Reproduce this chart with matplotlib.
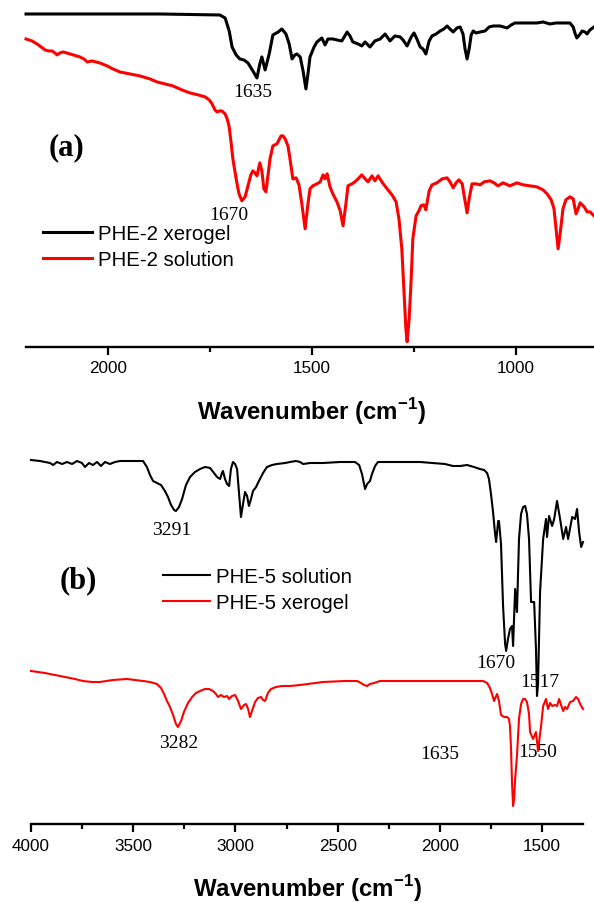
import numpy as np
import matplotlib
matplotlib.use("Agg")
import matplotlib.pyplot as plt
from matplotlib.ticker import MultipleLocator
from matplotlib import font_manager

plt.rcParams['font.family'] = ['Liberation Sans', 'DejaVu Sans']
_names = {f.name for f in font_manager.fontManager.ttflist}
if 'Liberation Sans Narrow' in _names:
    LABEL_FONT, LABEL_SIZE = 'Liberation Sans Narrow', 20
else:
    LABEL_FONT, LABEL_SIZE = 'Liberation Sans', 17.3
plt.rcParams['mathtext.fontset'] = 'custom'
plt.rcParams['mathtext.rm'] = LABEL_FONT
plt.rcParams['mathtext.bf'] = LABEL_FONT + ':bold'

# ---------------- Panel (a): PHE-2 ----------------
wn_a_xerogel = [2201, 2020, 1872, 1726, 1713, 1703, 1696, 1686, 1677, 1667,
                1657, 1645, 1635, 1628, 1623, 1615, 1605, 1596, 1583, 1574,
                1564, 1556, 1549, 1542, 1537, 1529, 1522, 1515, 1510, 1505,
                1495, 1488, 1476, 1468, 1461, 1449, 1439, 1427, 1414, 1407,
                1400, 1387, 1378, 1370, 1358, 1346, 1333, 1321, 1309, 1297,
                1284, 1277, 1267, 1257, 1250, 1243, 1235, 1228, 1221, 1213,
                1206, 1196, 1186, 1177, 1169, 1162, 1154, 1145, 1137, 1130,
                1125, 1120, 1115, 1110, 1105, 1098, 1088, 1076, 1066, 1056,
                1039, 1022, 1012, 1003, 985, 966, 949, 934, 917, 902,
                885, 868, 860, 855, 851, 843, 838, 831, 826, 819,
                809]
t_a_xerogel = [333, 333, 333, 332, 329, 316, 300, 292, 288, 287,
               284, 276, 269, 283, 290, 277, 293, 312, 315, 318,
               313, 303, 288, 292, 293, 290, 276, 258, 273, 290,
               300, 305, 309, 302, 308, 308, 307, 306, 315, 311,
               305, 303, 301, 305, 300, 306, 308, 313, 306, 311,
               310, 307, 301, 310, 314, 308, 300, 298, 293, 306,
               311, 313, 316, 318, 321, 318, 315, 319, 320, 313,
               298, 288, 298, 312, 316, 314, 315, 316, 320, 321,
               321, 319, 322, 324, 324, 324, 324, 325, 323, 324,
               324, 324, 320, 313, 309, 313, 316, 315, 313, 317,
               320]

wn_a_solution = [2201, 2186, 2174, 2164, 2154, 2145, 2137, 2130, 2125, 2118,
                 2110, 2093, 2069, 2059, 2051, 2039, 2020, 2002, 1988, 1971,
                 1946, 1922, 1897, 1880, 1860, 1841, 1819, 1799, 1779, 1762,
                 1752, 1745, 1738, 1733, 1726, 1721, 1713, 1708, 1703, 1698,
                 1694, 1686, 1679, 1672, 1664, 1657, 1650, 1645, 1640, 1635,
                 1628, 1623, 1618, 1613, 1603, 1596, 1586, 1576, 1571, 1566,
                 1559, 1554, 1547, 1539, 1532, 1525, 1517, 1510, 1505, 1498,
                 1488, 1480, 1473, 1468, 1463, 1456, 1449, 1439, 1431, 1424,
                 1417, 1412, 1402, 1395, 1387, 1378, 1370, 1363, 1353, 1346,
                 1338, 1329, 1316, 1304, 1294, 1287, 1280, 1275, 1270, 1267,
                 1262, 1257, 1253, 1245, 1238, 1233, 1226, 1221, 1213, 1206,
                 1194, 1181, 1169, 1162, 1154, 1147, 1140, 1132, 1128, 1120,
                 1115, 1108, 1098, 1088, 1078, 1064, 1054, 1044, 1032, 1015,
                 998, 983, 966, 949, 934, 924, 914, 907, 902, 897,
                 892, 885, 878, 868, 860, 853, 848, 843, 833, 826,
                 819, 809]
t_a_solution = [308, 306, 303, 300, 297, 296, 296, 294, 292, 294,
                295, 293, 290, 288, 285, 286, 284, 281, 278, 275,
                273, 271, 268, 265, 263, 261, 257, 254, 252, 250,
                247, 243, 237, 235, 236, 236, 233, 228, 220, 203,
                188, 168, 153, 146, 150, 161, 172, 176, 174, 171,
                184, 176, 158, 155, 188, 201, 203, 211, 211, 208,
                201, 188, 168, 169, 162, 143, 118, 143, 158, 161,
                163, 165, 172, 168, 173, 160, 153, 145, 136, 121,
                143, 161, 163, 165, 168, 172, 168, 165, 171, 166,
                171, 165, 158, 152, 145, 128, 98, 58, 18, 5,
                28, 68, 108, 131, 136, 141, 142, 137, 156, 162,
                164, 168, 169, 165, 159, 164, 167, 163, 153, 134,
                148, 163, 163, 162, 165, 166, 164, 161, 164, 161,
                164, 162, 161, 160, 157, 153, 147, 138, 118, 98,
                113, 138, 147, 150, 148, 133, 138, 144, 140, 135,
                135, 131]

labels_a = ["PHE-2 xerogel", "PHE-2 solution"]
peaks_a = ["1635", "1670"]

# ---------------- Panel (b): PHE-5 ----------------
wn_b_solution = [4000, 3956, 3932, 3907, 3892, 3873, 3848, 3824, 3799, 3775,
                 3751, 3736, 3716, 3697, 3677, 3658, 3638, 3614, 3589, 3565,
                 3516, 3452, 3433, 3418, 3403, 3384, 3364, 3345, 3330, 3315,
                 3300, 3291, 3276, 3261, 3242, 3222, 3198, 3173, 3149, 3124,
                 3105, 3090, 3075, 3066, 3061, 3051, 3041, 3031, 3022, 3012,
                 3002, 2992, 2982, 2973, 2963, 2953, 2943, 2934, 2924, 2914,
                 2899, 2890, 2880, 2865, 2846, 2821, 2797, 2757, 2733, 2704,
                 2684, 2669, 2635, 2572, 2488, 2415, 2395, 2381, 2366, 2356,
                 2342, 2332, 2317, 2303, 2244, 2161, 2097, 2033, 1975, 1936,
                 1901, 1867, 1833, 1804, 1784, 1769, 1760, 1750, 1740, 1730,
                 1725, 1715, 1711, 1701, 1691, 1681, 1676, 1667, 1657, 1647,
                 1642, 1632, 1623, 1613, 1603, 1593, 1583, 1574, 1564, 1554,
                 1539, 1530, 1525, 1520, 1510, 1495, 1481, 1476, 1466, 1451,
                 1441, 1427, 1412, 1397, 1383, 1373, 1353, 1339, 1329, 1319,
                 1309, 1300]
t_b_solution = [364, 363, 362, 361, 359, 362, 360, 362, 360, 363,
                361, 357, 361, 359, 362, 358, 362, 360, 362, 363,
                363, 363, 357, 349, 343, 341, 339, 333, 327, 319,
                314, 313, 317, 325, 339, 347, 352, 355, 357, 356,
                351, 347, 345, 351, 353, 345, 340, 338, 355, 362,
                360, 355, 330, 307, 320, 332, 328, 318, 325, 333,
                337, 341, 345, 351, 357, 359, 360, 361, 362, 363,
                362, 360, 361, 361, 362, 362, 359, 350, 335, 340,
                343, 350, 358, 362, 362, 362, 362, 361, 360, 358,
                358, 359, 357, 355, 354, 351, 345, 330, 312, 290,
                282, 303, 303, 280, 218, 180, 173, 185, 195, 198,
                178, 235, 212, 285, 310, 317, 318, 310, 285, 222,
                222, 175, 128, 140, 232, 285, 305, 287, 308, 298,
                305, 323, 305, 285, 297, 285, 307, 305, 315, 292,
                277, 282]

wn_b_xerogel = [4000, 3932, 3858, 3785, 3746, 3702, 3663, 3599, 3530, 3452,
                3418, 3384, 3364, 3349, 3335, 3320, 3305, 3291, 3281, 3266,
                3252, 3232, 3212, 3193, 3173, 3149, 3129, 3110, 3095, 3085,
                3071, 3056, 3041, 3031, 3017, 3002, 2987, 2973, 2958, 2948,
                2938, 2929, 2919, 2904, 2890, 2875, 2865, 2855, 2841, 2826,
                2802, 2772, 2733, 2684, 2572, 2464, 2405, 2386, 2371, 2356,
                2342, 2322, 2293, 2195, 2082, 1950, 1852, 1789, 1769, 1755,
                1745, 1735, 1725, 1720, 1711, 1701, 1686, 1671, 1662, 1657,
                1652, 1647, 1642, 1637, 1632, 1623, 1613, 1603, 1593, 1583,
                1574, 1564, 1559, 1544, 1534, 1530, 1520, 1510, 1505, 1495,
                1481, 1471, 1461, 1451, 1437, 1427, 1417, 1407, 1397, 1388,
                1378, 1363, 1349, 1334, 1324, 1314, 1300]
t_b_xerogel = [153, 151, 148, 145, 143, 142, 142, 144, 145, 143,
               142, 140, 136, 130, 123, 117, 109, 100, 97, 103,
               112, 121, 127, 131, 133, 135, 135, 133, 130, 127,
               129, 127, 128, 125, 128, 129, 123, 115, 119, 120,
               115, 107, 113, 122, 126, 127, 124, 123, 131, 135,
               137, 138, 138, 139, 142, 143, 143, 141, 139, 138,
               140, 141, 143, 143, 143, 143, 143, 143, 141, 136,
               130, 123, 128, 130, 123, 109, 107, 107, 105, 98,
               75, 40, 18, 25, 45, 68, 105, 120, 125, 125,
               122, 110, 92, 85, 90, 92, 73, 90, 98, 118,
               125, 115, 121, 118, 119, 118, 125, 119, 113, 117,
               115, 122, 123, 127, 125, 120, 115]

labels_b = ["PHE-5 solution", "PHE-5 xerogel"]
peaks_b = ["3291", "3282", "1670", "1517", "1635", "1550"]

for a, b in [(wn_a_xerogel, t_a_xerogel), (wn_a_solution, t_a_solution),
             (wn_b_solution, t_b_solution), (wn_b_xerogel, t_b_xerogel)]:
    assert len(a) == len(b), (len(a), len(b))

# ---------------- Figure ----------------
W, H = 594, 904
fig = plt.figure(figsize=(W / 100, H / 100), dpi=100)


def fx(px):
    return px / W


def fy(py):
    return 1 - py / H


def style_axis(ax):
    for s in ['left', 'right', 'top']:
        ax.spines[s].set_visible(False)
    ax.spines['bottom'].set_linewidth(1.7)
    ax.set_yticks([])
    ax.xaxis.set_major_locator(MultipleLocator(500))
    ax.xaxis.set_minor_locator(MultipleLocator(250))
    ax.tick_params(axis='x', which='major', direction='out', length=5.8,
                   width=1.6, labelsize=12.3, pad=4)
    ax.tick_params(axis='x', which='minor', direction='out', length=3.6,
                   width=1.6)
    ax.set_facecolor('none')


xlabel = r'Wavenumber (cm$^{\mathbf{-1}}$)'


def set_xlabel(ax, x_px, base_px, left_px, width_px, top_px, height_px):
    ax.set_xlabel(xlabel, fontsize=LABEL_SIZE, fontweight='bold',
                  family=[LABEL_FONT, 'Liberation Sans', 'DejaVu Sans'])
    ax.xaxis.set_label_coords((x_px - left_px) / width_px,
                              1 - (base_px - top_px) / height_px)
    ax.xaxis.label.set_va('baseline')


# Panel (a)
ax_a = fig.add_axes([fx(26), fy(347.7), fx(594) - fx(26), fy(0) - fy(347.7)])
la1, = ax_a.plot(wn_a_xerogel, t_a_xerogel, color='black', lw=2.2,
                 label=labels_a[0], clip_on=False)
la2, = ax_a.plot(wn_a_solution, t_a_solution, color='#ff0000', lw=2.2,
                 label=labels_a[1], clip_on=False)
ax_a.set_xlim(2201, 809)
ax_a.set_ylim(0, 348)
style_axis(ax_a)
set_xlabel(ax_a, 311, 419.5, 26, 568, 0, 347.7)
ax_a.legend(handles=[la1, la2], loc='center left',
            bbox_to_anchor=(fx(43), fy(247.5)), bbox_transform=fig.transFigure,
            frameon=False, fontsize=14.7, handlelength=2.4, handletextpad=0.3,
            labelspacing=0.34, borderpad=0, borderaxespad=0)

# Panel (b)
ax_b = fig.add_axes([fx(31), fy(825), fx(583) - fx(31), fy(440) - fy(825)])
lb1, = ax_b.plot(wn_b_solution, t_b_solution, color='black', lw=1.5,
                 label=labels_b[0], clip_on=False)
lb2, = ax_b.plot(wn_b_xerogel, t_b_xerogel, color='#ff0000', lw=1.5,
                 label=labels_b[1], clip_on=False)
ax_b.set_xlim(4000, 1300)
ax_b.set_ylim(0, 385)
style_axis(ax_b)
set_xlabel(ax_b, 307.5, 897, 31, 552, 440, 385)
ax_b.legend(handles=[lb1, lb2], loc='center left',
            bbox_to_anchor=(fx(163), fy(590.5)), bbox_transform=fig.transFigure,
            frameon=False, fontsize=14.7, handlelength=2.3, handletextpad=0.3,
            labelspacing=0.34, borderpad=0, borderaxespad=0)

# Panel letters
serif = ['Liberation Serif', 'DejaVu Serif']
fig.text(fx(67), fy(155), '(a)', ha='center', va='baseline', family=serif,
         fontsize=22, fontweight='bold')
fig.text(fx(78), fy(588), '(b)', ha='center', va='baseline', family=serif,
         fontsize=22, fontweight='bold')

# Peak annotations
peak_pos_a = [(253, 97), (229, 220)]
for txt, (px, py) in zip(peaks_a, peak_pos_a):
    fig.text(fx(px), fy(py), txt, ha='center', va='baseline', family=serif,
             fontsize=14)
peak_pos_b = [(172, 535), (179, 748), (496, 668), (540, 687), (440, 759),
              (538, 757)]
for txt, (px, py) in zip(peaks_b, peak_pos_b):
    fig.text(fx(px), fy(py), txt, ha='center', va='baseline', family=serif,
             fontsize=14)

fig.savefig('out.png', dpi=100)
